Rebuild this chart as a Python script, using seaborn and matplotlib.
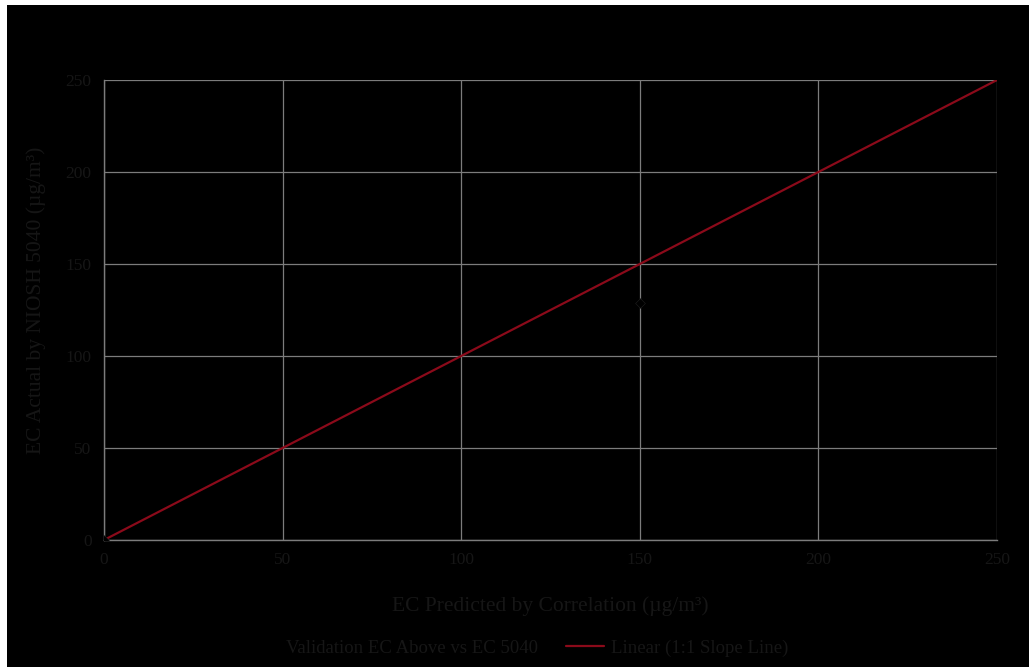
import matplotlib
matplotlib.use("Agg")
import matplotlib.pyplot as plt
import seaborn as sns
import pandas as pd
from matplotlib.patches import Rectangle
from matplotlib.lines import Line2D

# Data
pred_ec = [0, 150]          # EC predicted by correlation
actual_ec = [0, 129]        # EC actual by NIOSH 5040
line_x = [0, 250]           # 1:1 slope line
line_y = [0, 250]
x_ticks = [0, 50, 100, 150, 200, 250]
y_ticks = [0, 50, 100, 150, 200, 250]

sns.set_theme(style="dark")
plt.rcParams['font.family'] = ['Liberation Serif', 'DejaVu Serif']

txt = "#161616"
grid_c = "#7c7c7c"

fig = plt.figure(figsize=(10.29, 6.67), dpi=100)
fig.patch.set_facecolor("white")
fig.patches.append(Rectangle((7/1029, 0), 1, 1 - 5/667, transform=fig.transFigure,
                             facecolor="black", edgecolor="none", zorder=-10))
ax = fig.add_axes([104/1029, 1 - 540/667, (997-104)/1029, (540-80)/667])
ax.set_facecolor("black")

df_pts = pd.DataFrame({"x": pred_ec, "y": actual_ec})
df_line = pd.DataFrame({"x": line_x, "y": line_y})

sns.scatterplot(data=df_pts, x="x", y="y", ax=ax, color="black", edgecolor="#202020",
                s=25, marker="D", zorder=4, legend=False)
sns.lineplot(data=df_line, x="x", y="y", ax=ax, color="#8b0a1a", linewidth=1.6,
             zorder=3, legend=False)

ax.set_xlim(0, 250)
ax.set_ylim(0, 250)
ax.set_xticks(x_ticks)
ax.set_yticks(y_ticks)
ax.grid(True, color=grid_c, linewidth=0.9)
for s in ["top", "right"]:
    ax.spines[s].set_visible(False)
for s in ["left", "bottom"]:
    ax.spines[s].set_visible(True)
    ax.spines[s].set_color(grid_c)
    ax.spines[s].set_linewidth(1.0)
ax.tick_params(axis="both", colors=txt, labelsize=12.5, length=0, pad=9)

ax.set_xlabel("EC Predicted by Correlation (µg/m³)", color=txt, fontsize=15.5, labelpad=20)
ax.set_ylabel("EC Actual by NIOSH 5040 (µg/m³)", color=txt, fontsize=15.5, labelpad=12)
ax.yaxis.set_label_coords(-58/893, 0.52)

handles = [Line2D([], [], linestyle="none", marker="D", color="black", markersize=5),
           Line2D([], [], color="#8b0a1a", linewidth=1.6)]
labels = ["Validation EC Above vs EC 5040", "Linear (1:1 Slope Line)"]
leg = fig.legend(handles, labels, loc="center", bbox_to_anchor=(515/1029, 1 - 648/667),
                 ncol=2, frameon=False, fontsize=13.5, columnspacing=1.5,
                 handlelength=2.0, handletextpad=0.4)
for t in leg.get_texts():
    t.set_color(txt)

fig.savefig("out.png", dpi=100, facecolor=fig.get_facecolor())
